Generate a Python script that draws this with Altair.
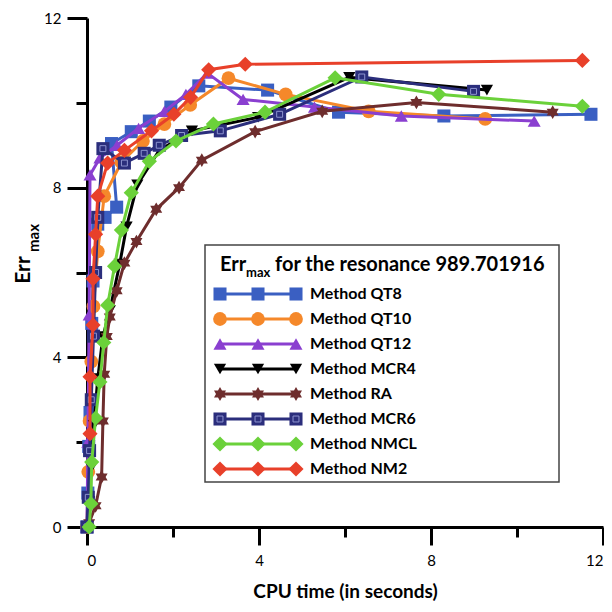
import altair as alt
import pandas as pd

# ---------------- data ----------------
names = ["Method QT8", "Method QT10", "Method QT12", "Method MCR4",
         "Method RA", "Method MCR6", "Method NMCL", "Method NM2"]
colors = ["#3a5fc2", "#f5882a", "#8a3fd0", "#000000",
          "#6e2d2d", "#2b2e7c", "#6bd13a", "#e8402a"]

qt8_x = [0.0, 0.02, 0.04, 0.07, 0.11, 0.14, 0.25, 0.42, 0.69, 0.57, 1.03, 1.45, 1.95, 2.6, 4.2, 5.85, 8.3, 11.72]
qt8_y = [0.0, 0.8, 1.9, 2.7, 4.8, 5.8, 7.14, 7.3, 7.54, 9.04, 9.32, 9.57, 9.9, 10.4, 10.3, 9.78, 9.69, 9.73]

qt10_x = [0.0, 0.03, 0.06, 0.1, 0.15, 0.25, 0.4, 0.8, 1.3, 1.8, 2.4, 3.29, 4.62, 6.55, 9.26]
qt10_y = [0.0, 1.3, 2.5, 3.9, 5.2, 6.5, 7.8, 8.6, 9.1, 9.5, 9.95, 10.58, 10.2, 9.8, 9.62]

qt12_x = [0.0, 0.02, 0.05, 0.07, 0.3, 0.7, 1.2, 1.8, 2.3, 2.8, 3.63, 5.29, 7.31, 10.4]
qt12_y = [0.0, 2.0, 5.0, 8.3, 8.7, 9.0, 9.4, 9.8, 10.2, 10.7, 10.08, 9.9, 9.69, 9.57]

mcr4_x = [0.0, 0.05, 0.1, 0.16, 0.25, 0.37, 0.53, 0.76, 0.92, 1.17, 1.68, 2.44, 3.98, 6.1, 9.3]
mcr4_y = [0.0, 0.6, 1.4, 2.4, 3.5, 4.49, 5.1, 6.2, 7.08, 8.07, 8.88, 9.34, 9.66, 10.6, 10.3]

ra_x = [0.05, 0.2, 0.34, 0.37, 0.4, 0.46, 0.53, 0.69, 0.87, 1.15, 1.61, 2.14, 2.67, 3.91, 5.47, 7.66, 10.83]
ra_y = [0.1, 0.5, 1.18, 2.5, 3.6, 4.49, 4.95, 5.57, 6.22, 6.73, 7.49, 8.0, 8.65, 9.32, 9.8, 10.01, 9.78]

mcr6_x = [0.0, 0.03, 0.06, 0.1, 0.15, 0.2, 0.25, 0.37, 0.87, 1.33, 1.68, 2.2, 3.1, 4.48, 6.39, 8.99]
mcr6_y = [0.0, 0.7, 1.8, 3.0, 4.5, 6.0, 7.3, 8.92, 8.58, 8.81, 9.0, 9.23, 9.34, 9.73, 10.61, 10.27]

nmcl_x = [0.05, 0.09, 0.11, 0.2, 0.3, 0.39, 0.48, 0.64, 0.8, 1.03, 1.45, 2.07, 2.94, 4.14, 5.77, 8.18, 11.52]
nmcl_y = [0.0, 0.55, 1.53, 2.57, 3.42, 4.35, 5.23, 6.15, 7.0, 7.88, 8.62, 9.1, 9.5, 9.78, 10.59, 10.2, 9.92]

nm2_x = [0.07, 0.07, 0.14, 0.14, 0.2, 0.25, 0.48, 0.87, 1.5, 2.02, 2.41, 2.83, 3.68, 11.52]
nm2_y = [2.2, 3.54, 4.76, 5.85, 6.9, 7.8, 8.58, 8.88, 9.34, 9.73, 10.13, 10.78, 10.91, 11.0]

xs = [qt8_x, qt10_x, qt12_x, mcr4_x, ra_x, mcr6_x, nmcl_x, nm2_x]
ys = [qt8_y, qt10_y, qt12_y, mcr4_y, ra_y, mcr6_y, nmcl_y, nm2_y]

x_ticks = [0, 2, 4, 6, 8, 10, 12]
y_ticks = [0, 2, 4, 6, 8, 10, 12]

STAR6 = ("M0,-1L0.29,-0.5L0.87,-0.5L0.58,0L0.87,0.5L0.29,0.5L0,1L-0.29,0.5"
         "L-0.87,0.5L-0.58,0L-0.87,-0.5L-0.29,-0.5Z")
shapes = ["square", "circle", "triangle-up", "triangle-down", STAR6, "square", "diamond", "diamond"]
sizes = [170, 190, 170, 150, 190, 170, 230, 230]

FONT = "Lato"

xscale = alt.Scale(domain=[0, 12], nice=False, zero=True)
yscale = alt.Scale(domain=[0, 12], nice=False, zero=True)

major = "datum.value % 4 === 0"
x_axis = alt.Axis(values=x_ticks, labelExpr=f"{major} ? datum.label : ''",
                  tickSize={"condition": {"test": major, "value": 18}, "value": 10},
                  title="CPU time (in seconds)", titleFont=FONT, titleFontSize=19,
                  titleFontWeight="bold", titlePadding=14, labelPadding=8)
y_axis = alt.Axis(values=y_ticks, labelExpr=f"{major} ? datum.label : ''",
                  tickSize={"condition": {"test": major, "value": 20}, "value": 11},
                  title=None, labelPadding=6)

layers = []
for i in range(len(names)):
    df = pd.DataFrame({"x": xs[i], "y": ys[i], "i": list(range(len(xs[i])))})
    base = alt.Chart(df)
    line = base.mark_line(color=colors[i], strokeWidth=3).encode(
        x=alt.X("x:Q", scale=xscale, axis=x_axis),
        y=alt.Y("y:Q", scale=yscale, axis=y_axis),
        order="i:Q",
    )
    pts = base.mark_point(shape=shapes[i], filled=True, size=sizes[i],
                          color=colors[i], opacity=1).encode(
        x=alt.X("x:Q", scale=xscale, axis=x_axis),
        y=alt.Y("y:Q", scale=yscale, axis=y_axis),
    )
    layers += [line, pts]
    if names[i] == "Method MCR6":
        layers.append(base.mark_point(shape="square", filled=False, size=35, color="#8d93cf",
                                      strokeWidth=1, opacity=1).encode(
            x=alt.X("x:Q", scale=xscale, axis=x_axis),
            y=alt.Y("y:Q", scale=yscale, axis=y_axis)))

# ---------------- y axis title (Err with subscript max) ----------------
layers.append(alt.Chart(pd.DataFrame({"t": ["Err"]})).mark_text(
    font=FONT, fontSize=21, fontWeight="bold", angle=270, align="center", baseline="middle").encode(
    text="t:N", x=alt.value(-63), y=alt.value(252)))
layers.append(alt.Chart(pd.DataFrame({"t": ["max"]})).mark_text(
    font=FONT, fontSize=15, fontWeight="bold", angle=270, align="center", baseline="middle").encode(
    text="t:N", x=alt.value(-53), y=alt.value(220)))

# ---------------- legend (drawn) ----------------
box = alt.Chart(pd.DataFrame({"a": [0]})).mark_rect(fill="white", stroke="#444", strokeWidth=1.5).encode(
    x=alt.value(118), x2=alt.value(472), y=alt.value(227), y2=alt.value(464))
layers.append(box)

layers.append(alt.Chart(pd.DataFrame({"t": ["Err"]})).mark_text(
    font=FONT, fontSize=20, fontWeight="bold", align="left", baseline="middle").encode(
    text="t:N", x=alt.value(133), y=alt.value(247)))
layers.append(alt.Chart(pd.DataFrame({"t": ["max"]})).mark_text(
    font=FONT, fontSize=13, fontWeight="bold", align="left", baseline="middle").encode(
    text="t:N", x=alt.value(159), y=alt.value(255)))
layers.append(alt.Chart(pd.DataFrame({"t": ["for the resonance 989.701916"]})).mark_text(
    font=FONT, fontSize=20, fontWeight="bold", align="left", baseline="middle").encode(
    text="t:N", x=alt.value(188), y=alt.value(247)))

for i in range(len(names)):
    yy = 276 + 25 * i
    layers.append(alt.Chart(pd.DataFrame({"a": [0]})).mark_rule(color=colors[i], strokeWidth=3).encode(
        x=alt.value(131), x2=alt.value(211), y=alt.value(yy)))
    sym = pd.DataFrame({"px": [133, 171, 209]})
    layers.append(alt.Chart(sym).mark_point(shape=shapes[i], filled=True, size=sizes[i],
                                            color=colors[i], opacity=1).encode(
        x=alt.X("px:Q", scale=None), y=alt.value(yy)))
    if names[i] == "Method MCR6":
        layers.append(alt.Chart(sym).mark_point(shape="square", filled=False, size=35, color="#8d93cf",
                                                strokeWidth=1, opacity=1).encode(
            x=alt.X("px:Q", scale=None), y=alt.value(yy)))
    layers.append(alt.Chart(pd.DataFrame({"t": [names[i]]})).mark_text(
        font=FONT, fontSize=16, fontWeight="bold", align="left", baseline="middle").encode(
        text="t:N", x=alt.value(223), y=alt.value(yy)))

chart = alt.layer(*layers).properties(
    width=516, height=509,
    autosize=alt.AutoSizeParams(type="none"),
    padding={"left": 79, "top": 10, "right": 1, "bottom": 77},
).configure_view(stroke=None).configure_axis(
    grid=False, domainColor="black", domainWidth=3, tickColor="black", tickWidth=3,
    labelFont=FONT, labelFontSize=15, labelColor="black", titleColor="black",
)

chart.save("out.html", embed_options={"renderer": "svg", "actions": False})
